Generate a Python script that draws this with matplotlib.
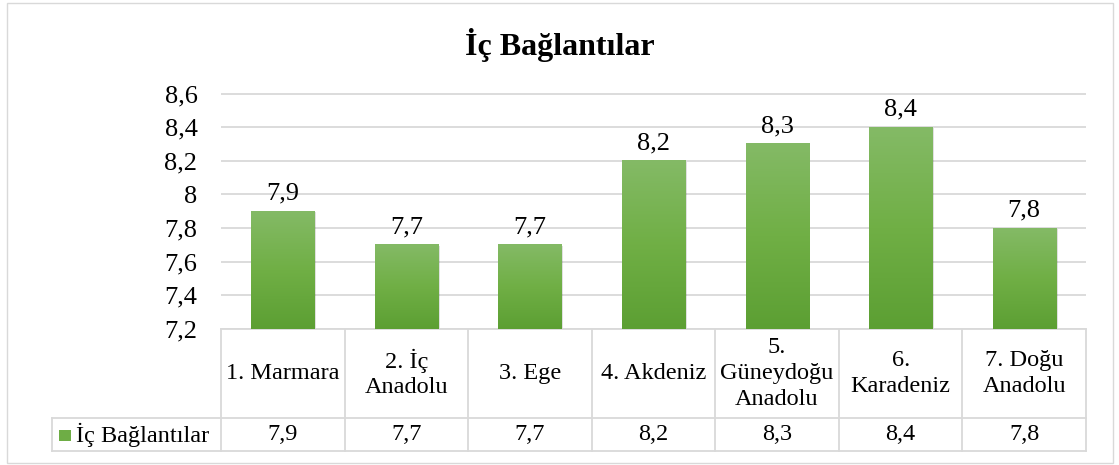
import numpy as np
import matplotlib.pyplot as plt
import matplotlib.transforms as mtransforms
from matplotlib.colors import LinearSegmentedColormap
from matplotlib.patches import Rectangle

plt.rcParams['font.family'] = ['Liberation Serif', 'DejaVu Serif']

# donnees
regions = ["1. Marmara", "2. İç\nAnadolu", "3. Ege", "4. Akdeniz",
           "5.\nGüneydoğu\nAnadolu", "6.\nKaradeniz", "7. Doğu\nAnadolu"]
values = [7.9, 7.7, 7.7, 8.2, 8.3, 8.4, 7.8]
series = "İç Bağlantılar"
yticks = [7.2, 7.4, 7.6, 7.8, 8.0, 8.2, 8.4, 8.6]

W, H = 1119, 465
fig = plt.figure(figsize=(W / 100, H / 100), dpi=100)

# cadre exterieur
fig.patches.append(Rectangle((7 / W, 2 / H), 1106 / W, 460 / H, transform=fig.transFigure,
                             fill=False, ec="#D9D9D9", lw=1.0))

ax = fig.add_axes([221 / W, (H - 329) / H, 865 / W, 235.5 / H])
n = len(values)
x = np.arange(n)
ax.set_xlim(-0.5, n - 0.5)
ax.set_ylim(7.2, 8.6)
ax.set_yticks(yticks)
ax.set_yticklabels([("%g" % v).replace(".", ",") for v in yticks], fontsize=19)
ax.tick_params(axis="y", length=0, pad=17)
ax.set_xticks([])
for s in ax.spines.values():
    s.set_visible(False)
ax.grid(axis="y", color="#D9D9D9", lw=1.3)
ax.set_axisbelow(True)

green = LinearSegmentedColormap.from_list("g", ["#5C9F33", "#70AF45", "#84BA66"])
grad = np.linspace(0, 1, 256).reshape(-1, 1)
bars = ax.bar(x, values, width=0.51, bottom=0, color="none", zorder=2)
for b, v in zip(bars, values):
    x0, w = b.get_x(), b.get_width()
    # ombre
    ax.add_patch(Rectangle((x0 + 0.015, 7.2), w, v - 7.2 - 0.005, fc="#000000", alpha=0.12,
                           ec="none", zorder=2))
    ax.imshow(grad, cmap=green, origin="lower", aspect="auto",
              extent=(x0, x0 + w, 7.2, v), zorder=3)
    ax.text(b.get_x() + w / 2, v + 0.04, ("%g" % v).replace(".", ","), ha="center",
            va="bottom", fontsize=19, zorder=4)
ax.set_xlim(-0.5, n - 0.5)
ax.set_ylim(7.2, 8.6)

fig.text(0.5, (H - 45) / H, series, ha="center", va="center", fontsize=23, fontweight="bold")

# tableau de donnees
tr = mtransforms.blended_transform_factory(ax.transData, fig.transFigure)
y_top, y_mid, y_bot = (H - 329) / H, (H - 418) / H, (H - 451) / H
lc = "#D9D9D9"
edges = np.arange(n + 1) - 0.5
for e in edges:
    ax.plot([e, e], [y_top, y_bot], transform=tr, color=lc, lw=1.3, clip_on=False)
ax.plot([edges[0], edges[-1]], [y_top, y_top], transform=tr, color=lc, lw=1.3, clip_on=False)
xl = 52 / W
x_axr = ax.get_position().x1
for yy in (y_mid, y_bot):
    fig.add_artist(plt.Line2D([xl, x_axr], [yy, yy], color=lc, lw=1.3))
fig.add_artist(plt.Line2D([xl, xl], [y_mid, y_bot], color=lc, lw=1.3))

for i, (r, v) in enumerate(zip(regions, values)):
    ax.text(i, (y_top + y_mid) / 2, r, transform=tr, ha="center", va="center",
            multialignment="center", fontsize=17.5, linespacing=1.3)
    ax.text(i, (y_mid + y_bot) / 2, ("%g" % v).replace(".", ","), transform=tr,
            ha="center", va="center", fontsize=17.5)

fig.patches.append(Rectangle((59 / W, (H - 441) / H), 12 / W, 11 / H, transform=fig.transFigure,
                             fc="#6EAD45", ec="none"))
fig.text(76 / W, (y_mid + y_bot) / 2, series, ha="left", va="center", fontsize=17.5)

fig.savefig("out.png", dpi=100)
